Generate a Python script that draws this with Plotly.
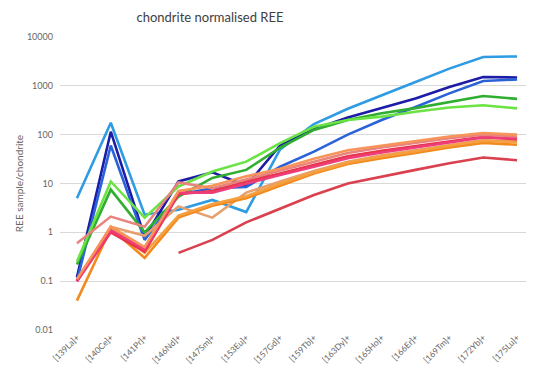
import plotly.graph_objects as go

elements = ["[139La]+", "[140Ce]+", "[141Pr]+", "[146Nd]+", "[147Sm]+", "[153Eu]+", "[157Gd]+",
            "[159Tb]+", "[163Dy]+", "[165Ho]+", "[166Er]+", "[169Tm]+", "[172Yb]+", "[175Lu]+"]

light_blue = [5, 175, 2.3, 2.9, 4.6, 2.6, 50, 165, 340, 650, 1200, 2250, 3900, 4000]
navy = [0.12, 115, 0.8, 11, 17, 9, 60, 130, 225, 350, 550, 950, 1520, 1480]
royal_blue = [0.1, 60, 0.7, 6, 8, 8.5, 22, 45, 100, 200, 370, 700, 1260, 1350]
dark_green = [0.22, 7.5, 1.0, 5.4, 13, 19, 54, 125, 200, 275, 350, 470, 620, 540]
light_green = [0.25, 11, 2.0, 8.7, 17.6, 28, 67, 145, 200, 234, 295, 360, 400, 345]
salmon = [0.6, 2.1, 1.3, 10.5, 8, 12, 18, 28, 42, 55, 68, 85, 100, 92]
hot_pink = [0.1, 1.1, 0.45, 6.5, 6.5, 10, 15, 22, 33, 43, 55, 70, 88, 84]
coral = [0.11, 1.3, 0.5, 7, 9, 14, 20, 32, 48, 60, 75, 92, 108, 100]
red_pink = [0.1, 1.0, 0.4, 6, 7, 11, 16, 24, 36, 47, 58, 72, 90, 80]
tan = [0.1, 1.3, 0.85, 3.4, 2.0, 6.5, 11, 18, 28, 38, 48, 62, 78, 72]
orange = [0.04, 1.2, 0.3, 2.0, 3.5, 5, 9, 16, 25, 33, 42, 55, 68, 62]
light_orange = [0.1, 1.3, 0.38, 2.2, 3.8, 5.5, 10, 17, 27, 36, 46, 60, 75, 70]
red_low = [None, None, None, 0.38, 0.7, 1.6, 3.1, 5.8, 10, 14, 19, 26, 34, 30]

series = [
    ("light blue", light_blue, "#2E9BE3"),
    ("navy", navy, "#1C1CA6"),
    ("royal blue", royal_blue, "#2A62D8"),
    ("dark green", dark_green, "#2FAE2F"),
    ("light green", light_green, "#6BE344"),
    ("red low", red_low, "#D9414E"),
    ("tan", tan, "#E6A06E"),
    ("orange", orange, "#F28A1E"),
    ("light orange", light_orange, "#F5A040"),
    ("red pink", red_pink, "#E8354A"),
    ("hot pink", hot_pink, "#EE3E7A"),
    ("salmon", salmon, "#E9837E"),
    ("coral", coral, "#F7945A"),
]

y_ticks = [0.01, 0.1, 1, 10, 100, 1000, 10000]
y_ticktext = ["0.01", "0.1", "1", "10", "100", "1000", "10000"]

fig = go.Figure()
for name, vals, color in series:
    fig.add_trace(go.Scatter(x=elements, y=vals, mode="lines", name=name,
                             line=dict(color=color, width=2.6), connectgaps=False))

fig.update_layout(
    width=526, height=365,
    margin=dict(l=52, r=0, t=29, b=43),
    paper_bgcolor="white", plot_bgcolor="white",
    showlegend=False,
    font=dict(family="Lato, Open Sans, sans-serif", color="#666666"),
    title=dict(text="chondrite normalised REE", x=0.384, xanchor="center", y=0.973, yanchor="middle",
               font=dict(size=13, color="#404040"), automargin=False),
    xaxis=dict(type="category", range=[-0.5, 13.5], tickangle=-45, tickfont=dict(size=8.5),
               showgrid=False, showline=False, ticks="", zeroline=False, automargin=False),
    yaxis=dict(type="log", range=[-2, 4], tickvals=y_ticks, ticktext=y_ticktext,
               tickfont=dict(size=9), gridcolor="#D9D9D9", gridwidth=1, showline=False,
               zeroline=False, ticks="", ticklabelstandoff=6, automargin=False,
               title=dict(text="REE sample/chondrite", font=dict(size=10), standoff=1)),
)

fig.write_html("out.html")
